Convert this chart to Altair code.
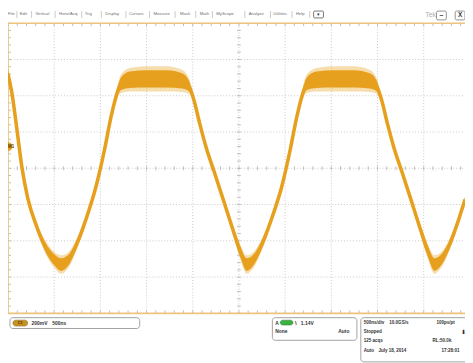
import altair as alt
import pandas as pd

# ---- waveform (time in ns, level in mV) ----
trace_t = [0, 43, 96, 149, 213, 298, 404, 500, 574, 649, 745, 851, 957, 1043, 1117, 1170,
           1223, 1319, 1511, 1723, 1883, 1957, 2011, 2074, 2149, 2234, 2330, 2426, 2511,
           2585, 2660, 2755, 2862, 2968, 3053, 3128, 3181, 3234, 3340, 3532, 3745, 3915,
           3989, 4043, 4106, 4181, 4266, 4362, 4457, 4543, 4617, 4691, 4787, 4872, 4947]
trace_mv = [520, 412, 217, 11, -163, -304, -434, -504, -531, -509, -417, -271, -92, 98, 287, 396,
            466, 488, 493, 493, 482, 455, 379, 249, 108, -22, -173, -325, -455,
            -531, -504, -412, -266, -92, 98, 287, 396, 466, 488, 493, 493, 482,
            455, 379, 249, 108, -22, -173, -325, -455, -531, -504, -412, -293, -173]
trace_noise = [25, 12, 10, 10, 12, 15, 25, 30, 35, 30, 22, 15, 12, 10, 12, 20,
               35, 45, 48, 48, 42, 30, 15, 10, 10, 10, 12, 18, 28,
               35, 30, 22, 15, 12, 10, 12, 20, 35, 45, 48, 48, 42,
               30, 15, 10, 10, 10, 12, 18, 28, 35, 30, 22, 15, 12]

# graticule: 500 ns/div, 200 mV/div
grid_t = [0, 500, 1000, 1500, 2000, 2500, 3000, 3500, 4000, 4500]
grid_mv = [-800, -600, -400, -200, 0, 200, 400, 600, 800]
minor_t = list(range(0, 4901, 100))
minor_mv = list(range(-800, 801, 40))

menu_labels = ["File", "Edit", "Vertical", "Horiz/Acq", "Trig", "Display", "Cursors",
               "Measure", "Mask", "Math", "MyScope", "Analyze", "Utilities", "Help"]

# ---- layout (chart pixel positions of UI chrome) ----
menu_x = [0, 12, 28, 52, 78, 99, 123, 148, 175, 195, 212, 245, 270, 293]
menu_sep = [9, 24, 48, 75, 95, 120, 144, 170, 191, 208, 241, 267, 289, 307]

T_MAX = 4947
MV_LO, MV_HI = -1057, 867
xs = alt.Scale(domain=[0, T_MAX], nice=False, zero=False)
ys = alt.Scale(domain=[MV_LO, MV_HI], nice=False, zero=False)
FONT = "Liberation Sans"
ORANGE = "#E6A01E"
BORDER = "#EDC37E"

dummy = pd.DataFrame({"a": [0]})


def txt(s, x, y, size=5.5, color="#333333", weight="normal", align="left"):
    return alt.Chart(dummy).mark_text(
        text=s, fontSize=size, color=color, fontWeight=weight, align=align,
        baseline="middle", font=FONT
    ).encode(x=alt.value(x), y=alt.value(y))


def box(x1, y1, x2, y2, fill="#ffffff", stroke="#9a9a9a", r=2, sw=0.8):
    return alt.Chart(dummy).mark_rect(
        fill=fill, stroke=stroke, strokeWidth=sw, cornerRadius=r
    ).encode(x=alt.value(x1), x2=alt.value(x2), y=alt.value(y1), y2=alt.value(y2))


def sep(x, y1, y2, color="#bdbdbd"):
    return alt.Chart(dummy).mark_rule(color=color, strokeWidth=0.8).encode(
        x=alt.value(x), y=alt.value(y1), y2=alt.value(y2))


layers = []

# grid
vg = pd.DataFrame({"t": grid_t[1:], "lo": -800, "hi": 800})
layers.append(alt.Chart(vg).mark_rule(color="#bcbcbc", strokeWidth=0.8, strokeDash=[1, 2]).encode(
    x=alt.X("t:Q", scale=xs, axis=None), y=alt.Y("lo:Q", scale=ys, axis=None), y2="hi:Q"))
hg = pd.DataFrame({"mv": [m for m in grid_mv if abs(m) != 800], "lo": 0, "hi": T_MAX})
layers.append(alt.Chart(hg).mark_rule(color="#bcbcbc", strokeWidth=0.8, strokeDash=[1, 2]).encode(
    y=alt.Y("mv:Q", scale=ys, axis=None), x=alt.X("lo:Q", scale=xs, axis=None), x2="hi:Q"))

# minor ticks on centre axes
ct = pd.DataFrame({"t": minor_t, "lo": -11, "hi": 11})
layers.append(alt.Chart(ct).mark_rule(color="#a8a8a8", strokeWidth=0.7).encode(
    x=alt.X("t:Q", scale=xs, axis=None), y=alt.Y("lo:Q", scale=ys, axis=None), y2="hi:Q"))
cm = pd.DataFrame({"mv": minor_mv, "lo": 2479, "hi": 2521})
layers.append(alt.Chart(cm).mark_rule(color="#a8a8a8", strokeWidth=0.7).encode(
    y=alt.Y("mv:Q", scale=ys, axis=None), x=alt.X("lo:Q", scale=xs, axis=None), x2="hi:Q"))

# border ticks
tt = pd.DataFrame({"t": minor_t, "lo": 784, "hi": 800})
layers.append(alt.Chart(tt).mark_rule(color="#a0a0a0", strokeWidth=0.7).encode(
    x=alt.X("t:Q", scale=xs, axis=None), y=alt.Y("lo:Q", scale=ys, axis=None), y2="hi:Q"))
bt = pd.DataFrame({"t": minor_t, "lo": -800, "hi": -784})
layers.append(alt.Chart(bt).mark_rule(color="#a0a0a0", strokeWidth=0.7).encode(
    x=alt.X("t:Q", scale=xs, axis=None), y=alt.Y("lo:Q", scale=ys, axis=None), y2="hi:Q"))
lt = pd.DataFrame({"mv": minor_mv, "lo": 0, "hi": 32})
layers.append(alt.Chart(lt).mark_rule(color="#a0a0a0", strokeWidth=0.7).encode(
    y=alt.Y("mv:Q", scale=ys, axis=None), x=alt.X("lo:Q", scale=xs, axis=None), x2="hi:Q"))

# borders
bh = pd.DataFrame({"mv": [800, -800], "lo": 0, "hi": T_MAX})
layers.append(alt.Chart(bh).mark_rule(color=BORDER, strokeWidth=1.6).encode(
    y=alt.Y("mv:Q", scale=ys, axis=None), x=alt.X("lo:Q", scale=xs, axis=None), x2="hi:Q"))
bv = pd.DataFrame({"t": [0], "lo": -800, "hi": 800})
layers.append(alt.Chart(bv).mark_rule(color=BORDER, strokeWidth=1.8).encode(
    x=alt.X("t:Q", scale=xs, axis=None), y=alt.Y("lo:Q", scale=ys, axis=None), y2="hi:Q"))

# trace: faint outer noise halo, solid noise band, and the trace core
tr = pd.DataFrame({"t": trace_t, "mv": trace_mv, "n": trace_noise})
tr["up"] = tr["mv"] + tr["n"]
tr["dn"] = tr["mv"] - tr["n"]
tr["up2"] = tr["mv"] + tr["n"] * 1.45
tr["dn2"] = tr["mv"] - tr["n"] * 1.45
layers.append(alt.Chart(tr).mark_area(color="#EDB247", opacity=0.45, interpolate="monotone").encode(
    x=alt.X("t:Q", scale=xs, axis=None), y=alt.Y("up2:Q", scale=ys, axis=None), y2="dn2:Q"))
layers.append(alt.Chart(tr).mark_area(color=ORANGE, opacity=1, interpolate="monotone").encode(
    x=alt.X("t:Q", scale=xs, axis=None), y=alt.Y("up:Q", scale=ys, axis=None), y2="dn:Q"))
layers.append(alt.Chart(tr).mark_line(color=ORANGE, strokeWidth=3.6, interpolate="monotone").encode(
    x=alt.X("t:Q", scale=xs, axis=None), y=alt.Y("mv:Q", scale=ys, axis=None)))

# M1 marker
layers.append(alt.Chart(dummy).mark_point(filled=True, shape="circle", size=80, color="#E8A020", opacity=1).encode(
    x=alt.value(0), y=alt.value(138)))
layers.append(txt("M1", 0, 138, size=4.5, color="#5a3a00", weight="bold"))

# menu bar
for lab, x in zip(menu_labels, menu_x):
    layers.append(txt(lab, x, 3.5, size=4.3, color="#707070"))
for x in menu_sep:
    layers.append(sep(x, 0, 7))
layers.append(box(311, 0, 321, 7, stroke="#555555", r=1))
layers.append(txt("\u25be", 316, 3.5, size=5, color="#333333", align="center"))
layers.append(txt("Tek", 430, 4, size=7, color="#b0b0b0", align="center"))
layers.append(box(436, 0, 446, 9, stroke="#777777", r=1.5))
layers.append(txt("\u2013", 441, 4.5, size=7, color="#333333", align="center", weight="bold"))
layers.append(box(455, 0, 465, 9, stroke="#777777", r=1.5))
layers.append(txt("X", 460, 4.5, size=6.5, color="#333333", align="center", weight="bold"))

# bottom-left channel box
layers.append(box(2, 312, 134, 323, stroke="#8a8a8a", r=3))
layers.append(box(5, 314.5, 20, 320.5, fill="#C8921E", stroke="#8a6a20", r=3, sw=0.6))
layers.append(txt("C1", 12.5, 317.5, size=4, color="#3a2a00", align="center", weight="bold"))
layers.append(txt("200mV", 24, 317.5, size=5, weight="bold"))
layers.append(txt("500ns", 45, 317.5, size=5, weight="bold"))

# trigger box
layers.append(box(269, 312, 355, 335, stroke="#8a8a8a", r=3))
layers.append(txt("A", 272, 317, size=5, weight="bold"))
layers.append(box(277, 314.5, 290, 319.5, fill="#3cb043", stroke="#2a7a2a", r=3, sw=0.5))
layers.append(txt("\\", 292, 317, size=6, weight="bold"))
layers.append(txt("1.14V", 298, 317, size=5, weight="bold"))
layers.append(txt("None", 272, 326, size=5, weight="bold"))
layers.append(txt("Auto", 336, 326, size=5, weight="bold"))

# acquisition box
layers.append(box(359, 312, 470, 357, stroke="#8a8a8a", r=3))
for s, x, y in [("500ns/div", 362, 317), ("10.0GS/s", 388, 317), ("100ps/pt", 436, 317),
                ("Stopped", 362, 327), ("125 acqs", 362, 336), ("RL:50.0k", 432, 336),
                ("Auto", 362, 346), ("July 18, 2014", 377, 346), ("17:28:01", 441, 346)]:
    layers.append(txt(s, x, y, size=4.6, weight="bold"))
layers.append(txt("\u2b07", 461, 327, size=6, color="#222222"))

chart = alt.layer(*layers).properties(
    width=465, height=355, padding=0,
    autosize=alt.AutoSizeParams(type="none"),
    background="#ffffff",
).configure_view(stroke=None)

chart.save("out.html", embed_options={"renderer": "svg", "actions": False})
